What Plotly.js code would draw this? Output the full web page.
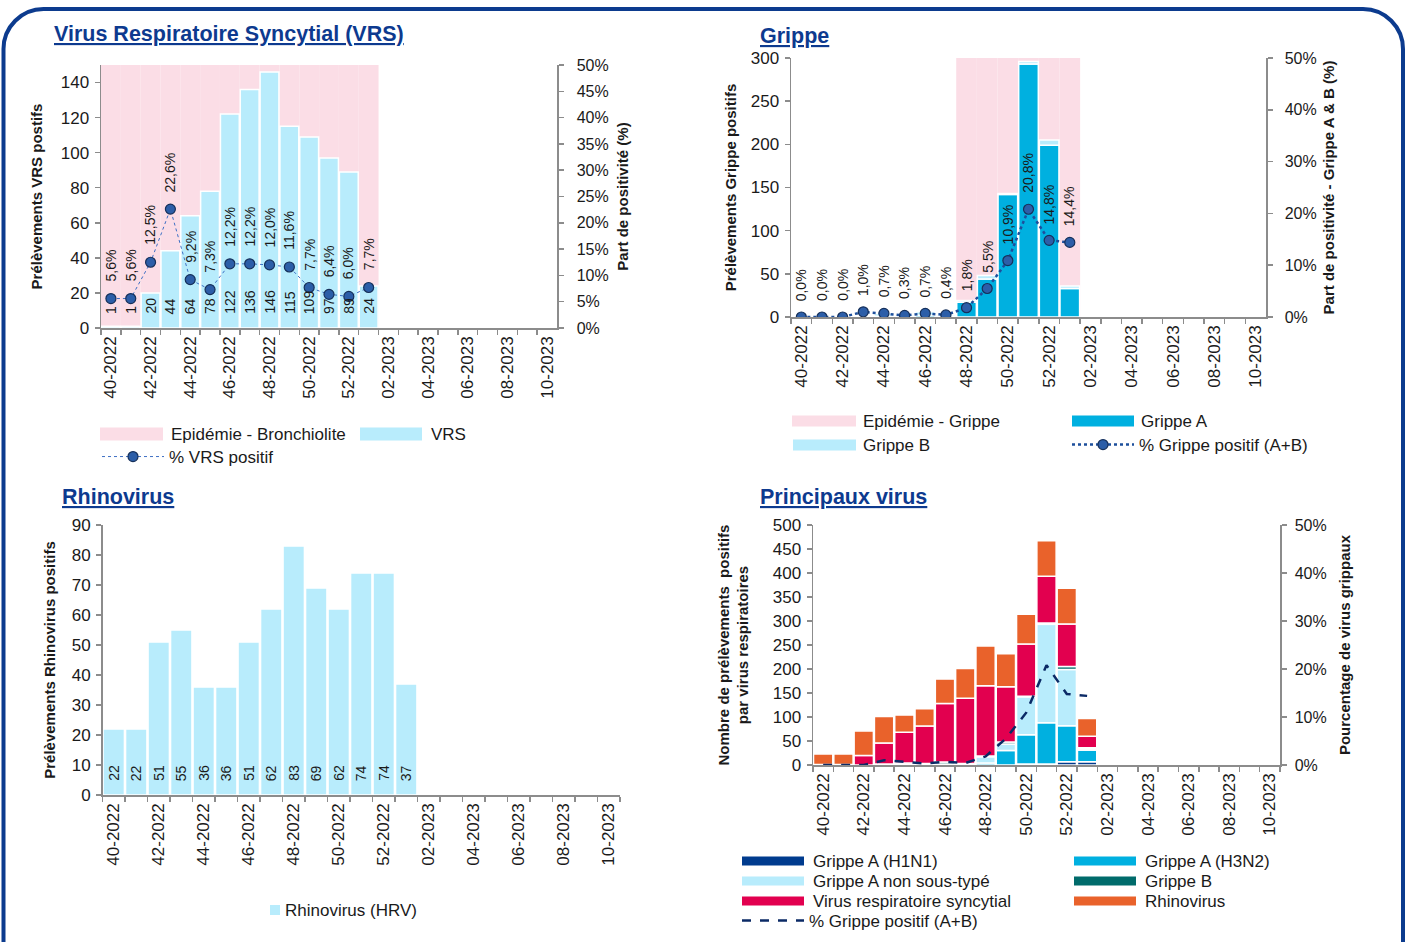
<!DOCTYPE html>
<html>
<head>
<meta charset="utf-8">
<script src="https://cdn.plot.ly/plotly-3.0.1.min.js"></script>
<style>
html, body { margin: 0; padding: 0; background: #ffffff; }
#chart { width: 1415px; height: 942px; }
</style>
</head>
<body>
<div id="chart"></div>
<script>
// ---------------- DATA ----------------
const weeks = ['40-2022','41-2022','42-2022','43-2022','44-2022','45-2022','46-2022','47-2022','48-2022','49-2022','50-2022','51-2022','52-2022',
               '01-2023','02-2023','03-2023','04-2023','05-2023','06-2023','07-2023','08-2023','09-2023','10-2023'];
const dataWeeks = weeks.slice(0, 14);

// VRS
const vrsCounts = [1, 1, 20, 44, 64, 78, 122, 136, 146, 115, 109, 97, 89, 24];
const vrsPct    = [5.6, 5.6, 12.5, 22.6, 9.2, 7.3, 12.2, 12.2, 12.0, 11.6, 7.7, 6.4, 6.0, 7.7];
const vrsEpidemic = [1, 1, 1, 1, 1, 1, 1, 1, 1, 1, 1, 1, 1, 1];

// Grippe
const grippeA   = [0, 0, 0, 1, 1, 1, 2, 1, 17, 44, 142, 293, 199, 33];
const grippeB   = [0, 0, 0, 1, 3, 2, 4, 2, 2, 4, 1, 3, 6, 3];
const grippePct = [0.0, 0.0, 0.0, 1.0, 0.7, 0.3, 0.7, 0.4, 1.8, 5.5, 10.9, 20.8, 14.8, 14.4];
const grippeEpidemic = [0, 0, 0, 0, 0, 0, 0, 0, 1, 1, 1, 1, 1, 1];

// Rhinovirus
const rhinoCounts = [22, 22, 51, 55, 36, 36, 51, 62, 83, 69, 62, 74, 74, 37];

// Principaux virus : sous-types grippe
const fluH1N1     = [0, 0, 0, 0, 0, 0, 0, 0, 0, 0, 2, 2, 7, 7];
const fluH3N2     = [0, 0, 0, 1, 1, 1, 1, 1, 4, 30, 61, 86, 75, 24];
const fluNonTyped = [0, 0, 0, 0, 0, 0, 1, 0, 13, 14, 79, 205, 117, 2];

// ---------------- STYLE ----------------
const W = 1415, H = 942;
const FONT = '"Liberation Sans", Arial, sans-serif';
const AX = '#8c8c8c', TXT = '#1a1a1a', NAVY = '#0d3a8f';
const PINK = '#fbdde6', LIGHT = '#b8ecfc', CYAN = '#00b0e0';
const MARK = '#2c5ea8', MARK_LINE = '#16305a';

const vrsRange = [0, 150], grippeRange = [0, 300], rhinoRange = [0, 90], allRange = [0, 500], pctRange = [0, 0.5];

const weekTicks = weeks.map((w, i) => (i % 2 === 0 ? w : ''));
const fmtPct = v => v.toFixed(1).replace('.', ',') + '%';

function xAxis(x0, x1, anchor) {
  return {
    domain: [x0 / W, x1 / W], anchor: anchor, type: 'category',
    categoryorder: 'array', categoryarray: weeks, range: [-0.5, weeks.length - 0.5],
    tickmode: 'array', tickvals: weeks, ticktext: weekTicks, tickson: 'boundaries',
    ticks: 'outside', ticklen: 5, tickcolor: AX, tickwidth: 1.5,
    showline: true, linecolor: AX, linewidth: 1.5, tickangle: -90,
    tickfont: { family: FONT, size: 17, color: TXT },
    showgrid: false, zeroline: false, fixedrange: true
  };
}
function yLeft(y0, y1, anchor, range, dtick, title, standoff) {
  return {
    domain: [1 - y1 / H, 1 - y0 / H], anchor: anchor, range: range,
    tickmode: 'linear', tick0: 0, dtick: dtick,
    ticks: 'outside', ticklen: 5, tickcolor: AX, tickwidth: 1.5, ticklabelstandoff: 2,
    showline: true, linecolor: AX, linewidth: 1.5,
    showgrid: false, zeroline: false, fixedrange: true,
    tickfont: { family: FONT, size: 17, color: TXT },
    title: { text: title, font: { family: FONT, size: 15, color: TXT, weight: 'bold' }, standoff: standoff }
  };
}
function yRight(overlay, anchor, dtick, title, standoff, labelGap) {
  return {
    overlaying: overlay, side: 'right', anchor: anchor, range: pctRange,
    tickmode: 'linear', tick0: 0, dtick: dtick, tickformat: '.0%',
    ticks: 'outside', ticklen: 5, tickcolor: AX, tickwidth: 1.5, ticklabelstandoff: labelGap,
    showline: true, linecolor: AX, linewidth: 1.5,
    showgrid: false, zeroline: false, fixedrange: true,
    tickfont: { family: FONT, size: 16, color: TXT },
    title: { text: title, font: { family: FONT, size: 15, color: TXT, weight: 'bold' }, standoff: standoff }
  };
}

// ---------------- LEGENDS ----------------
const legends = {};
const shapes = [];
const annotations = [];
let legendCount = 0;
// native legend (used for line series)
function addLegend(px, py, itemwidth) {
  legendCount++;
  const key = legendCount === 1 ? 'legend' : 'legend' + legendCount;
  legends[key] = {
    x: px / W, y: 1 - py / H, xanchor: 'left', yanchor: 'middle',
    bgcolor: 'rgba(0,0,0,0)', borderwidth: 0, itemwidth: itemwidth || 62,
    font: { family: FONT, size: 17, color: TXT }, itemclick: false, itemdoubleclick: false
  };
  return key;
}
// legend swatch + label for bar series
function barLegend(name, color, x0, x1, yc, h, tx) {
  shapes.push({ type: 'rect', xref: 'paper', yref: 'paper', x0: x0 / W, x1: x1 / W,
    y0: 1 - (yc + h / 2) / H, y1: 1 - (yc - h / 2) / H, fillcolor: color, line: { width: 0 }, layer: 'above' });
  annotations.push({ xref: 'paper', yref: 'paper', x: tx / W, y: 1 - yc / H, xanchor: 'left', yanchor: 'middle',
    text: name, showarrow: false, font: { family: FONT, size: 17, color: TXT } });
}

// ---------------- TRACES ----------------
const traces = [];

// VRS subplot (x, y, y2)
const vrsEpiName = 'Epidémie - Bronchiolite', vrsName = 'VRS';
traces.push({ type: 'bar', name: vrsEpiName, x: dataWeeks, y: vrsEpidemic.map(f => f * vrsRange[1]),
  width: 1, marker: { color: PINK, line: { width: 0 } }, xaxis: 'x', yaxis: 'y', showlegend: false });
barLegend(vrsEpiName, PINK, 100, 163, 434, 13, 169);
traces.push({ type: 'bar', name: vrsName, x: dataWeeks, y: vrsCounts,
  marker: { color: LIGHT, line: { color: '#ffffff', width: 1.5 } }, xaxis: 'x', yaxis: 'y', showlegend: false });
barLegend(vrsName, LIGHT, 360, 422, 434, 13, 429);
traces.push({ type: 'scatter', mode: 'lines+markers', name: '% VRS positif', x: dataWeeks, y: vrsPct.map(v => v / 100),
  line: { color: '#3d6fc4', width: 1, dash: 'dot' }, marker: { size: 10, color: MARK, line: { color: MARK_LINE, width: 1.2 } },
  xaxis: 'x', yaxis: 'y2', showlegend: true, legend: addLegend(97, 457) });

// Grippe subplot (x2, y3, y4)
const grEpiName = 'Epidémie - Grippe', grAName = 'Grippe A', grBName = 'Grippe B';
traces.push({ type: 'bar', name: grEpiName, x: dataWeeks, y: grippeEpidemic.map(f => f * grippeRange[1]),
  width: 1, marker: { color: PINK, line: { width: 0 } }, xaxis: 'x2', yaxis: 'y3', showlegend: false });
barLegend(grEpiName, PINK, 792, 856, 421, 11, 861);
traces.push({ type: 'bar', name: grAName, x: dataWeeks, y: grippeA,
  marker: { color: CYAN, line: { color: '#ffffff', width: 1.5 } }, xaxis: 'x2', yaxis: 'y3', showlegend: false });
barLegend(grAName, CYAN, 1072, 1134, 421, 11, 1139);
traces.push({ type: 'bar', name: grBName, x: dataWeeks, y: grippeB, base: grippeA,
  marker: { color: LIGHT, line: { color: '#ffffff', width: 1.5 } }, xaxis: 'x2', yaxis: 'y3', showlegend: false });
barLegend(grBName, LIGHT, 793, 856, 445, 11, 861);
traces.push({ type: 'scatter', mode: 'lines+markers', name: '% Grippe positif (A+B)', x: dataWeeks, y: grippePct.map(v => v / 100),
  line: { color: '#1d4f9c', width: 2.5, dash: 'dot' }, marker: { size: 10, color: MARK, line: { color: MARK_LINE, width: 1.2 } },
  xaxis: 'x2', yaxis: 'y4', showlegend: true, legend: addLegend(1067, 445) });

// Rhinovirus subplot (x3, y5)
const rhinoName = 'Rhinovirus (HRV)';
traces.push({ type: 'bar', name: rhinoName, x: dataWeeks, y: rhinoCounts,
  marker: { color: LIGHT, line: { color: '#ffffff', width: 1.5 } }, xaxis: 'x3', yaxis: 'y5', showlegend: false });
barLegend(rhinoName, LIGHT, 270, 280, 910, 10, 283);

// Principaux virus subplot (x4, y6, y7) - stacked through base
const stackSeries = [
  { name: 'Grippe A (H1N1)', y: fluH1N1, color: '#003b8e', col: 0, row: 0 },
  { name: 'Grippe A (H3N2)', y: fluH3N2, color: CYAN, col: 1, row: 0 },
  { name: 'Grippe A non sous-typé', y: fluNonTyped, color: LIGHT, col: 0, row: 1 },
  { name: 'Grippe B', y: grippeB, color: '#006b6b', col: 1, row: 1 },
  { name: 'Virus respiratoire syncytial', y: vrsCounts, color: '#e2004f', col: 0, row: 2 },
  { name: 'Rhinovirus', y: rhinoCounts, color: '#e9622b', col: 1, row: 2 }
];
const legCols = [742, 1074], legRows = [861, 881, 901, 921];
let cum = dataWeeks.map(() => 0);
stackSeries.forEach(s => {
  const lx = legCols[s.col], ly = legRows[s.row];
  traces.push({ type: 'bar', name: s.name, x: dataWeeks, y: s.y, base: cum.slice(),
    marker: { color: s.color, line: { color: '#ffffff', width: 1.5 } }, xaxis: 'x4', yaxis: 'y6', showlegend: false });
  barLegend(s.name, s.color, lx, lx + 62, ly, 9, lx + 69);
  cum = cum.map((c, i) => c + s.y[i]);
});
traces.push({ type: 'scatter', mode: 'lines', name: '% Grippe positif (A+B)', x: dataWeeks, y: grippePct.map(v => v / 100),
  line: { color: '#0b2a66', width: 2.5, dash: 'dash' }, xaxis: 'x4', yaxis: 'y7',
  showlegend: true, legend: addLegend(737, legRows[3]) });

traces.forEach(t => { t.hoverinfo = 'skip'; });

// ---------------- DATA LABELS ----------------
function barLabels(values, xref, yref) {
  values.forEach((v, i) => annotations.push({ xref: xref, yref: yref, x: dataWeeks[i], y: 0, text: String(v),
    textangle: -90, xanchor: 'center', yanchor: 'bottom', yshift: 12, showarrow: false,
    font: { family: FONT, size: 14, color: TXT } }));
}
function pctLabels(values, xref, yref, shift) {
  values.forEach((v, i) => annotations.push({ xref: xref, yref: yref, x: dataWeeks[i], y: v / 100, text: fmtPct(v),
    textangle: -90, xanchor: 'center', yanchor: 'bottom', yshift: shift, showarrow: false,
    font: { family: FONT, size: 14, color: TXT } }));
}
barLabels(vrsCounts, 'x', 'y');
pctLabels(vrsPct, 'x', 'y2', 15);
pctLabels(grippePct, 'x2', 'y4', 14);
barLabels(rhinoCounts, 'x3', 'y5');

function title(text, px, py) {
  annotations.push({ xref: 'paper', yref: 'paper', x: px / W, y: 1 - py / H, xanchor: 'left', yanchor: 'middle',
    text: '<b><span style="text-decoration:underline">' + text + '</span></b>', showarrow: false,
    font: { family: FONT, size: 21.5, color: NAVY } });
}
title('Virus Respiratoire Syncytial (VRS)', 52, 34);
title('Grippe', 758, 36);
title('Rhinovirus', 60, 497);
title('Principaux virus', 758, 497);

// rounded frame
const fx0 = 3.5 / W, fx1 = 1403 / W, fyt = 1 - 9 / H, rx = 40 / W, ry = 40 / H, k = 0.45;
const framePath = 'M' + fx0 + ',-0.05 L' + fx0 + ',' + (fyt - ry) +
  ' C' + fx0 + ',' + (fyt - ry * k) + ' ' + (fx0 + rx * k) + ',' + fyt + ' ' + (fx0 + rx) + ',' + fyt +
  ' L' + (fx1 - rx) + ',' + fyt +
  ' C' + (fx1 - rx * k) + ',' + fyt + ' ' + fx1 + ',' + (fyt - ry * k) + ' ' + fx1 + ',' + (fyt - ry) +
  ' L' + fx1 + ',-0.05';
shapes.push({ type: 'path', xref: 'paper', yref: 'paper', path: framePath, line: { color: '#0c3b8e', width: 4 }, layer: 'above' });

// ---------------- LAYOUT ----------------
const layout = Object.assign({
  width: W, height: H, margin: { l: 0, r: 0, t: 0, b: 0 },
  paper_bgcolor: '#ffffff', plot_bgcolor: 'rgba(0,0,0,0)',
  barmode: 'overlay', bargap: 0.05, separators: ', ',
  hovermode: false, showlegend: true,
  font: { family: FONT, color: TXT },
  xaxis: xAxis(101, 557, 'y'),
  yaxis: yLeft(65, 328, 'x', vrsRange, 20, 'Prélèvements VRS postifs', 14),
  yaxis2: yRight('y', 'x', 0.05, 'Part de positivité (%)', 10, 10),
  xaxis2: xAxis(791, 1266, 'y3'),
  yaxis3: yLeft(58, 317, 'x2', grippeRange, 50, 'Prélèvements Grippe positifs', 10),
  yaxis4: yRight('y3', 'x2', 0.1, 'Part de positivité - Grippe A & B (%)', 8, 9),
  xaxis3: xAxis(102.5, 620, 'y5'),
  yaxis5: yLeft(525, 795, 'x3', rhinoRange, 10, 'Prélèvements Rhinovirus positifs', 12),
  xaxis4: xAxis(813, 1280, 'y6'),
  yaxis6: yLeft(525, 765, 'x4', allRange, 50, 'Nombre de prélèvements  positifs<br>par virus respiratoires', 20),
  yaxis7: yRight('y6', 'x4', 0.1, 'Pourcentage de virus grippaux', 14, 5),
  annotations: annotations,
  shapes: shapes
}, legends);

Plotly.newPlot('chart', traces, layout, { staticPlot: true, displayModeBar: false });
</script>
</body>
</html>
